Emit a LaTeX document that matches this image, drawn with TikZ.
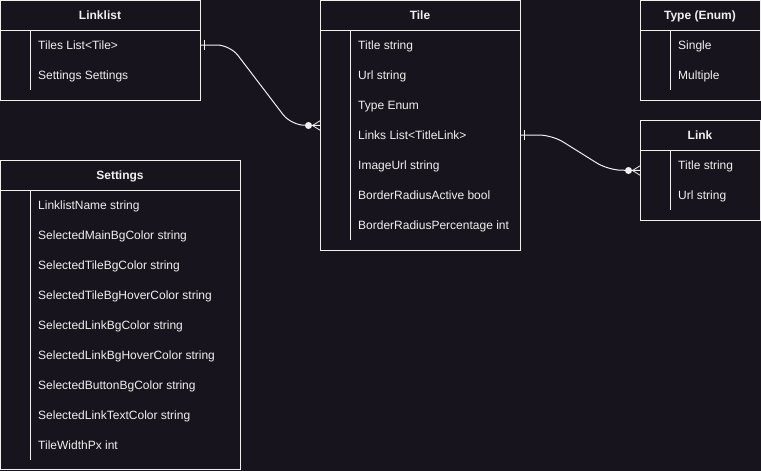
\documentclass[tikz,border=0pt]{standalone}
\usepackage{fontspec}
\setmainfont{Liberation Sans}
\definecolor{bgdark}{RGB}{24,20,29}
\definecolor{linewhite}{RGB}{240,240,240}

\begin{document}
\begin{tikzpicture}
        [x=1pt, y=-1pt,
        table/.style = {draw=linewhite, line width=1pt, rectangle, inner sep=0pt, outer sep=0pt, anchor=north west},
        header/.style = {text=linewhite, inner sep=0pt, text height=8.6pt, text depth=0pt, font=\fontsize{12}{14}\selectfont\bfseries},
        field/.style = {text=linewhite, anchor=west, inner sep=0pt, text height=8.6pt, text depth=0pt, font=\fontsize{12}{14}\selectfont},
        sep/.style = {draw=linewhite, line width=1pt},
        lines/.style = {draw=linewhite, line width=1pt, rounded corners=13pt}]
        \fill[bgdark] (0,0) rectangle (761,471);
        \useasboundingbox (0,0) rectangle (761,471);

        % Linklist
        \node[table, minimum width=200pt, minimum height=100pt] (linklist) at (0.5,0.5) {};
        \node[header] (linklistH) at (100,15.5) {Linklist};
        \draw[sep] (0.5,30) -- (200.5,30);
        \draw[sep] (30,30) -- (30,90);
        \node[field] (tiles) at (38,45) {Tiles List<Tile>};
        \node[field] (settingsF) at (38,75) {Settings Settings};

        % Tile
        \node[table, minimum width=200pt, minimum height=250pt] (tile) at (320.5,0.5) {};
        \node[header] (tileH) at (420,15.5) {Tile};
        \draw[sep] (320.5,30) -- (520.5,30);
        \draw[sep] (350,30) -- (350,240);
        \node[field] (title) at (358,45) {Title string};
        \node[field] (url) at (358,75) {Url string};
        \node[field] (type) at (358,105) {Type Enum};
        \node[field] (links) at (358,135) {Links List<TitleLink>};
        \node[field] (imageurl) at (358,165) {ImageUrl string};
        \node[field] (radiusactive) at (358,195) {BorderRadiusActive bool};
        \node[field] (radiuspercent) at (358,225) {BorderRadiusPercentage int};

        % Type (Enum)
        \node[table, minimum width=120pt, minimum height=100pt] (typeenum) at (640.5,0.5) {};
        \node[header] (typeenumH) at (700,15.5) {Type (Enum)};
        \draw[sep] (640.5,30) -- (760.5,30);
        \draw[sep] (670,30) -- (670,90);
        \node[field] (single) at (678,45) {Single};
        \node[field] (multiple) at (678,75) {Multiple};

        % Link
        \node[table, minimum width=120pt, minimum height=100pt] (link) at (640.5,120.5) {};
        \node[header] (linkH) at (700,135.5) {Link};
        \draw[sep] (640.5,150) -- (760.5,150);
        \draw[sep] (670,150) -- (670,210);
        \node[field] (linktitle) at (678,165) {Title string};
        \node[field] (linkurl) at (678,195) {Url string};

        % Settings
        \node[table, minimum width=240pt, minimum height=309pt] (settings) at (0.5,160.5) {};
        \node[header] (settingsH) at (120,175.5) {Settings};
        \draw[sep] (0.5,190) -- (240.5,190);
        \draw[sep] (30,190) -- (30,460);
        \node[field] (s1) at (38,205) {LinklistName string};
        \node[field] (s2) at (38,235) {SelectedMainBgColor string};
        \node[field] (s3) at (38,265) {SelectedTileBgColor string};
        \node[field] (s4) at (38,295) {SelectedTileBgHoverColor string};
        \node[field] (s5) at (38,325) {SelectedLinkBgColor string};
        \node[field] (s6) at (38,355) {SelectedLinkBgHoverColor string};
        \node[field] (s7) at (38,385) {SelectedButtonBgColor string};
        \node[field] (s8) at (38,415) {SelectedLinkTextColor string};
        \node[field] (s9) at (38,445) {TileWidthPx int};

        % connectors
        \coordinate (l1s) at (tiles -| linklist.east);
        \coordinate (l1e) at (tile.west);
        \coordinate (l2s) at (links -| tile.east);
        \coordinate (l2e) at (link.west);

        \draw[lines] (l1s) -- (230,45) -- (291,125) -- (l1e);
        \draw[sep] ([xshift=4pt,yshift=5pt]l1s) -- ([xshift=4pt,yshift=-5pt]l1s);
        \fill[linewhite] ([xshift=-12pt]l1e) circle (3.5pt);
        \draw[sep, line width=0.8pt] ([xshift=-8pt]l1e) -- ([yshift=5pt]l1e) ([xshift=-8pt]l1e) -- ([yshift=-5pt]l1e);

        \draw[lines] (l2s) -- (552,135) -- (608,170) -- (l2e);
        \draw[sep] ([xshift=4pt,yshift=5pt]l2s) -- ([xshift=4pt,yshift=-5pt]l2s);
        \fill[linewhite] ([xshift=-12pt]l2e) circle (3.5pt);
        \draw[sep, line width=0.8pt] ([xshift=-8pt]l2e) -- ([yshift=5pt]l2e) ([xshift=-8pt]l2e) -- ([yshift=-5pt]l2e);
    \end{tikzpicture}
\end{document}
